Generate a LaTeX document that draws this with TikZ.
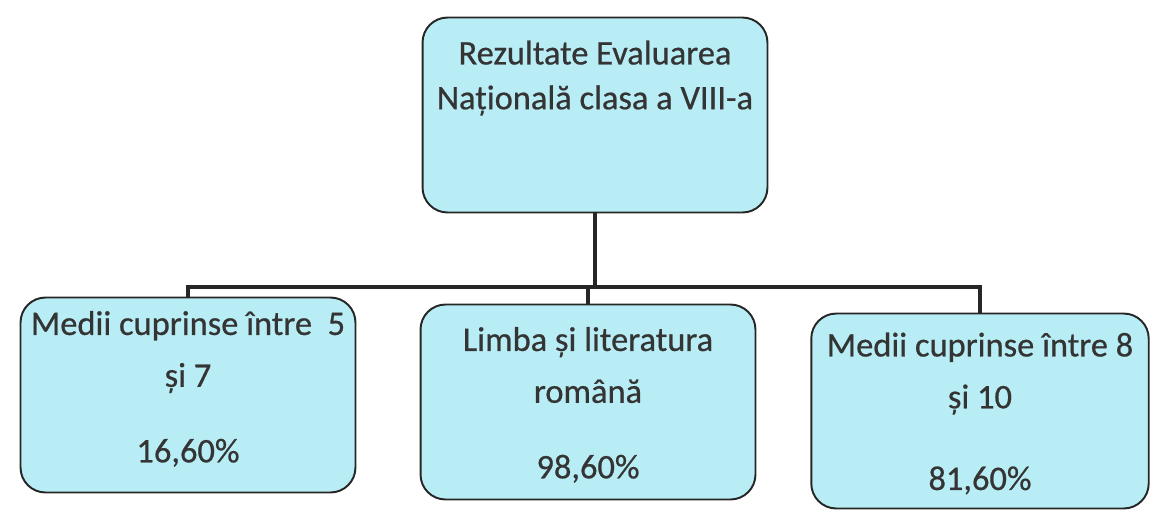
\documentclass[tikz,border=0pt]{standalone}
\usepackage{fontspec}
\setmainfont[FakeBold=0.6]{Carlito}
\definecolor{myblue}{RGB}{184,237,245}
\definecolor{mygray}{RGB}{52,52,52}
\definecolor{myline}{RGB}{38,38,38}
\newcommand*{\mytextstyle}{\fontsize{19.6}{29.5}\selectfont\color{mygray}}
\newcommand{\toptext}[1]{\parbox[c][3.9cm][t]{6.9cm}{\centering\vspace*{0.46cm}%
   \fontsize{19.6}{25.5}\selectfont #1}}
\newcommand{\subtext}[2][0.42cm]{\parbox[c][3.9cm][t]{6.7cm}{\centering\vspace*{#1}#2}}
\tikzset{
   resultbox/.style = {draw=myline, fill=myblue, line width=1.1pt,
      rounded corners=0.5cm, inner sep=0pt, font=\mytextstyle},
   conn/.style = {draw=myline, line width=2.6pt}
}

\begin{document}
\begin{tikzpicture}[x=0.02cm, y=-0.02cm]

   \useasboundingbox (0,0) rectangle (1150,512);

   % the title box
   \node [resultbox] (title) at (595,115) {\toptext{Rezultate Evaluarea\\Națională clasa a VIII-a}};

   % the three results
   \node [resultbox] (low)  at (188,395) {\subtext[0.27cm]{Medii cuprinse între~~5\\și 7\\[13.5pt]16,60\%}};
   \node [resultbox] (lit)  at (588,402) {\subtext[0.45cm]{Limba și literatura\\română\\[13.5pt]98,60\%}};
   \node [resultbox, minimum width=6.75cm] (high) at (980,411)
      {\subtext[0.38cm]{Medii cuprinse între 8\\și 10\\[17pt]81,60\%}};

   \coordinate (bus) at (595,287);

   \draw [conn] (title.south) -- (title.south |- bus);
   \draw [conn] (low.north) |- (bus) -| (high.north);
   \draw [conn] (bus -| lit.north) -- (lit.north);

\end{tikzpicture}
\end{document}
